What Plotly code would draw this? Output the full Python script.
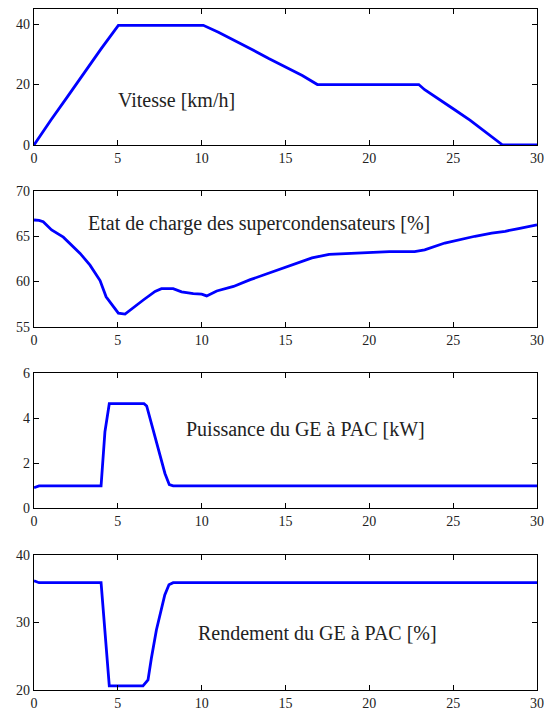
import plotly.graph_objects as go

# ---- data ----
t_speed = [0, 0.5, 1, 2, 3, 4, 5.03, 10.1, 11, 12, 13, 14, 15, 16, 16.9, 22.95, 23.3, 24, 25, 26, 27, 27.95, 30]
v_speed = [0, 4.3, 8.2, 16.0, 24.0, 31.8, 39.6, 39.6, 37.3, 34.5, 31.6, 28.6, 25.8, 23, 20, 20, 18.3, 15.6, 12.0, 8.2, 4.1, 0, 0]

t_soc = [0, 0.3, 0.55, 1.05, 1.75, 2.75, 3.34, 3.94, 4.3, 5.03, 5.43, 5.83, 6.52, 7.22, 7.6, 8.3, 8.8, 9.5, 10.0, 10.3,
         10.9, 11.9, 12.9, 13.9, 14.2, 16.58, 17.6, 19.4, 21.2, 22.7, 23.3, 24.5, 25.5, 26.3, 27.3, 28.1, 28.9, 30]
v_soc = [66.8, 66.75, 66.6, 65.7, 64.9, 63.1, 61.8, 60.1, 58.3, 56.5, 56.4, 57.0, 57.95, 58.9, 59.2, 59.2, 58.85, 58.65, 58.6, 58.4,
         58.95, 59.45, 60.2, 60.85, 61.05, 62.6, 63.0, 63.15, 63.3, 63.3, 63.5, 64.25, 64.7, 65.0, 65.35, 65.55, 65.85, 66.25]

t_pow = [0, 0.3, 4.0, 4.23, 4.49, 6.56, 6.72, 7.32, 7.81, 8.07, 8.3, 30]
v_pow = [0.92, 1.0, 1.0, 3.4, 4.65, 4.65, 4.55, 2.95, 1.55, 1.05, 1.0, 1.0]

t_eff = [0, 0.3, 4.0, 4.49, 6.5, 6.8, 7.0, 7.3, 7.8, 8.05, 8.3, 30]
v_eff = [36.2, 35.9, 35.9, 20.6, 20.6, 21.5, 24.7, 28.9, 34.1, 35.6, 35.9, 35.9]

labels = ["Vitesse [km/h]", "Etat de charge des supercondensateurs [%]",
          "Puissance du GE à PAC [kW]", "Rendement du GE à PAC [%]"]
x_ticks = [0, 5, 10, 15, 20, 25, 30]

series = [(t_speed, v_speed), (t_soc, v_soc), (t_pow, v_pow), (t_eff, v_eff)]
yranges = [[0, 45], [55, 70], [0, 6], [20, 40]]
ytickvals = [[0, 20, 40], [55, 60, 65, 70], [0, 2, 4, 6], [20, 30, 40]]
domains = [[0.8003, 1.0], [0.5335, 0.7327], [0.2668, 0.465], [0.0, 0.1982]]
label_pos = [(8.5, 14.8), (13.4, 66.4), (16.2, 3.53), (16.9, 28.4)]

fig = go.Figure()
font_family = "Liberation Serif, Times New Roman, serif"

for i, ((tx, vy), yr, yt, dom, lab, lp) in enumerate(zip(series, yranges, ytickvals, domains, labels, label_pos)):
    n = "" if i == 0 else str(i + 1)
    fig.add_trace(go.Scatter(x=tx, y=vy, mode="lines", line=dict(color="#0000ff", width=2.8),
                             xaxis="x" + n, yaxis="y" + n, showlegend=False))
    axis_common = dict(showline=True, linecolor="black", linewidth=1.2, mirror="ticks",
                       ticks="inside", ticklen=5, tickcolor="black", showgrid=False, zeroline=False,
                       automargin=False,
                       tickfont=dict(family=font_family, size=14, color="#222"))
    fig.layout["xaxis" + n] = dict(axis_common, range=[0, 30], tickvals=x_ticks, domain=[0, 1],
                                   anchor="y" + n)
    fig.layout["yaxis" + n] = dict(axis_common, range=yr, tickvals=yt, domain=dom, anchor="x" + n)
    fig.add_annotation(x=lp[0], y=lp[1], xref="x" + n, yref="y" + n, text=lab, showarrow=False,
                       font=dict(family=font_family, size=20, color="#222"))

fig.update_layout(width=544, height=711, margin=dict(l=34, r=7, t=9, b=21),
                  paper_bgcolor="white", plot_bgcolor="white")
fig.write_html("out.html", config={"displayModeBar": False},
               post_script="document.body.style.margin='0';document.body.style.overflow='hidden';")
